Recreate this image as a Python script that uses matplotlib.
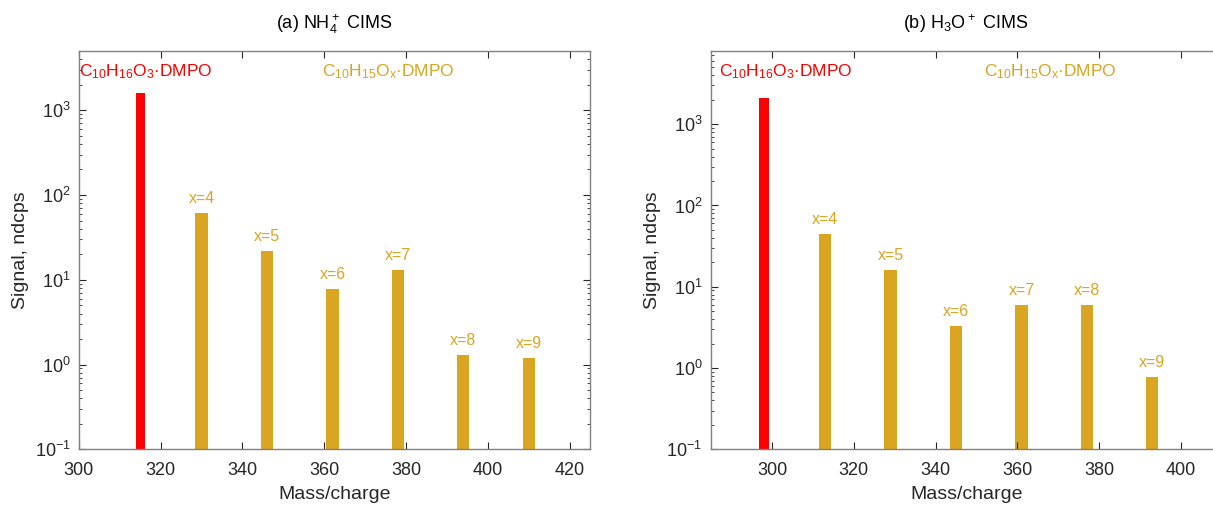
import numpy as np
import matplotlib
matplotlib.use('Agg')
import matplotlib.pyplot as plt
from matplotlib.ticker import LogLocator, NullFormatter, MultipleLocator

plt.rcParams['font.family'] = ['Liberation Sans', 'DejaVu Sans']
plt.rcParams['mathtext.default'] = 'regular'

# panel (a) NH4+ CIMS
mz_red_a = [315]
sig_red_a = [1600]
mz_gold_a = [330, 346, 362, 378, 394, 410]
sig_gold_a = [62, 22, 7.7, 13.2, 1.29, 1.19]

# panel (b) H3O+ CIMS
mz_red_b = [298]
sig_red_b = [2100]
mz_gold_b = [313, 329, 345, 361, 377, 393]
sig_gold_b = [44, 16, 3.3, 5.9, 5.9, 0.77]

x_labels = ['x=4', 'x=5', 'x=6', 'x=7', 'x=8', 'x=9']
titles = [r'(a) NH$_4^+$ CIMS', r'(b) H$_3$O$^+$ CIMS']
red_name = r'C$_{10}$H$_{16}$O$_{3}$·DMPO'
gold_name = r'C$_{10}$H$_{15}$O$_{x}$·DMPO'

RED = '#ff0000'
GOLD = '#daa520'
AXC = '#262626'

fig = plt.figure(figsize=(12.13, 5.09), dpi=100)
ax_a = fig.add_axes([0.0651, 0.1173, 0.4213, 0.7825])
ax_b = fig.add_axes([0.5859, 0.1173, 0.4213, 0.7825])

panels = [
    (ax_a, mz_red_a, sig_red_a, mz_gold_a, sig_gold_a, (300, 425), 5000, 300, 359.5),
    (ax_b, mz_red_b, sig_red_b, mz_gold_b, sig_gold_b, (285, 410), 7950, 287.0, 351.8),
]

for i, (ax, mr, sr, mg, sg, xl, ytop, xr_txt, xg_txt) in enumerate(panels):
    ax.bar(mr, sr, width=2.3, bottom=0.1, color=RED, edgecolor='none')
    ax.bar(mg, np.array(sg) - 0.1, width=3.0, bottom=0.1, color=GOLD, edgecolor='none')
    ax.set_yscale('log')
    ax.set_xlim(*xl)
    ax.set_ylim(0.1, ytop)
    for m, s, lab in zip(mg, sg, x_labels):
        ax.annotate(lab, (m, s), xytext=(0, 5), textcoords='offset points',
                    ha='center', va='bottom', color=GOLD, fontsize=11.5)
    tr = ax.get_xaxis_transform()
    ax.text(xr_txt, 0.948, red_name, transform=tr, color=RED, fontsize=12.5, va='center', ha='left')
    ax.text(xg_txt, 0.948, gold_name, transform=tr, color=GOLD, fontsize=12.5, va='center', ha='left')

    ax.set_title(titles[i], fontsize=13, color='black', pad=16)
    ax.set_xlabel('Mass/charge', fontsize=14, color=AXC, labelpad=5)
    ax.set_ylabel('Signal, ndcps', fontsize=14, color=AXC)
    ax.xaxis.set_major_locator(MultipleLocator(20))
    ax.yaxis.set_major_locator(LogLocator(base=10, numticks=10))
    ax.yaxis.set_minor_locator(LogLocator(base=10, subs=np.arange(2, 10), numticks=10))
    ax.yaxis.set_minor_formatter(NullFormatter())
    ax.tick_params(which='both', direction='in', top=True, right=True, colors=AXC, labelsize=13)
    ax.tick_params(which='major', length=5, width=0.8)
    ax.tick_params(which='minor', length=2.5, width=0.6)
    ax.tick_params(axis='x', pad=9)
    ax.tick_params(axis='y', pad=6)
    for sp in ax.spines.values():
        sp.set_color('#808080')
        sp.set_linewidth(1.0)

fig.savefig('out.png', dpi=100)
